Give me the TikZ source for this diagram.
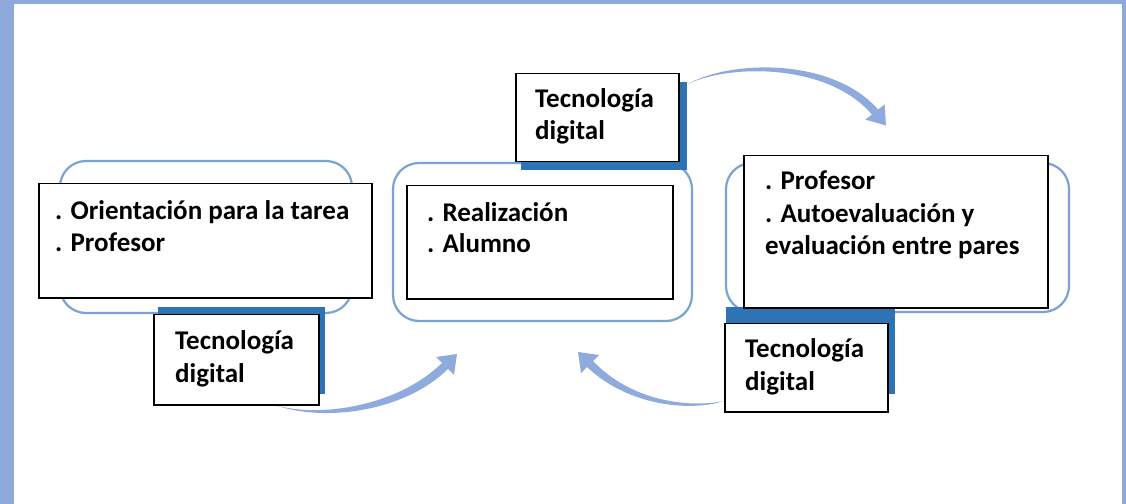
\documentclass[tikz,border=0pt]{standalone}
\usepackage{fontspec}
\setmainfont{Carlito}
\definecolor{framecol}{HTML}{8EAADB}
\definecolor{ringcol}{HTML}{7AA3D5}
\definecolor{shadcol}{HTML}{2E74B5}
\definecolor{arrcol}{HTML}{8FAADC}
\tikzset{
  frame/.style={fill=framecol, draw=none},
  ring/.style={draw=ringcol, line width=2.2bp, rounded corners=26bp},
  wbox/.style={draw=black, fill=white, line width=1.5bp, anchor=north west, inner sep=0pt},
  shadow/.style={fill=shadcol, draw=none},
  lbl/.style={font=\fontsize{27bp}{32bp}\selectfont\bfseries, anchor=base west, inner sep=0pt},
  arr/.style={fill=arrcol, draw=none}
}
\begin{document}
\begin{tikzpicture}[x=1bp,y=-1bp]
\useasboundingbox (0,0) rectangle (1126,504);
% frame
\fill[white] (0,0) rectangle (1126,504);
\fill[frame] (0,0) rectangle (14,504);
\fill[frame] (0,0) rectangle (1126,4);
\fill[frame] (1122,0) rectangle (1126,504);
% rings
\draw[ring] (60,161) rectangle (352,313);
\draw[ring] (393,163) rectangle (692,321);
\draw[ring] (726,163) rectangle (1069,312);
% arrows
\coordinate (a1s) at (275,405);
\coordinate (a1e) at (457,354);
\fill[arr] (a1s) .. controls (322,422) and (403,413) .. (448,369) -- (454,375) -- (a1e) -- (436,357) -- (442,363) .. controls (397,407) and (318,418) .. (a1s) -- cycle;
\coordinate (a2s) at (724,401);
\coordinate (a2e) at (578,352);
\fill[arr] (a2s) .. controls (690,412) and (628,406) .. (587,367) -- (581,373) -- (a2e) -- (599,355) -- (593,361) .. controls (632,402) and (690,408) .. (a2s) -- cycle;
\coordinate (a3s) at (688,84);
\coordinate (a3e) at (886,125.5);
\fill[arr] (a3s) .. controls (730,60) and (832,57) .. (878.1,109.5) -- (884.6,104.4) -- (a3e) -- (865.4,119.6) -- (871.9,114.5) .. controls (828,63) and (730,64) .. (a3s) -- cycle;
% shadows
\fill[shadow] (158,307) rectangle (325,394);
\fill[shadow] (521,82) rectangle (687,170);
\fill[shadow] (726,307) rectangle (895,394);
% left group
\node[wbox, minimum width=333bp, minimum height=114bp] (b1) at (38,183) {};
\node[lbl] (b1l1) at (55,220) {. Orientación para la tarea};
\node[lbl] (b1l2) at (55,252) {. Profesor};
\node[wbox, minimum width=165bp, minimum height=90bp] (t1) at (153,314) {};
\node[lbl] (t1l1) at (175,350) {Tecnología};
\node[lbl] (t1l2) at (175,383) {digital};
% middle group
\node[wbox, minimum width=266bp, minimum height=113bp] (b2) at (406,185) {};
\node[lbl] (b2l1) at (427,222) {. Realización};
\node[lbl] (b2l2) at (427,253) {. Alumno};
\node[wbox, minimum width=163bp, minimum height=88bp] (t2) at (515,73) {};
\node[lbl] (t2l1) at (535,108) {Tecnología};
\node[lbl] (t2l2) at (535,140) {digital};
% right group
\node[wbox, minimum width=304bp, minimum height=152bp] (b3) at (743,155) {};
\node[lbl] (b3l1) at (765,190) {. Profesor};
\node[lbl] (b3l2) at (765,223) {. Autoevaluación y};
\node[lbl] (b3l3) at (765,255) {evaluación entre pares};
\node[wbox, minimum width=163bp, minimum height=88bp] (t3) at (724,323) {};
\node[lbl] (t3l1) at (745,358) {Tecnología};
\node[lbl] (t3l2) at (745,390) {digital};
\end{tikzpicture}
\end{document}
